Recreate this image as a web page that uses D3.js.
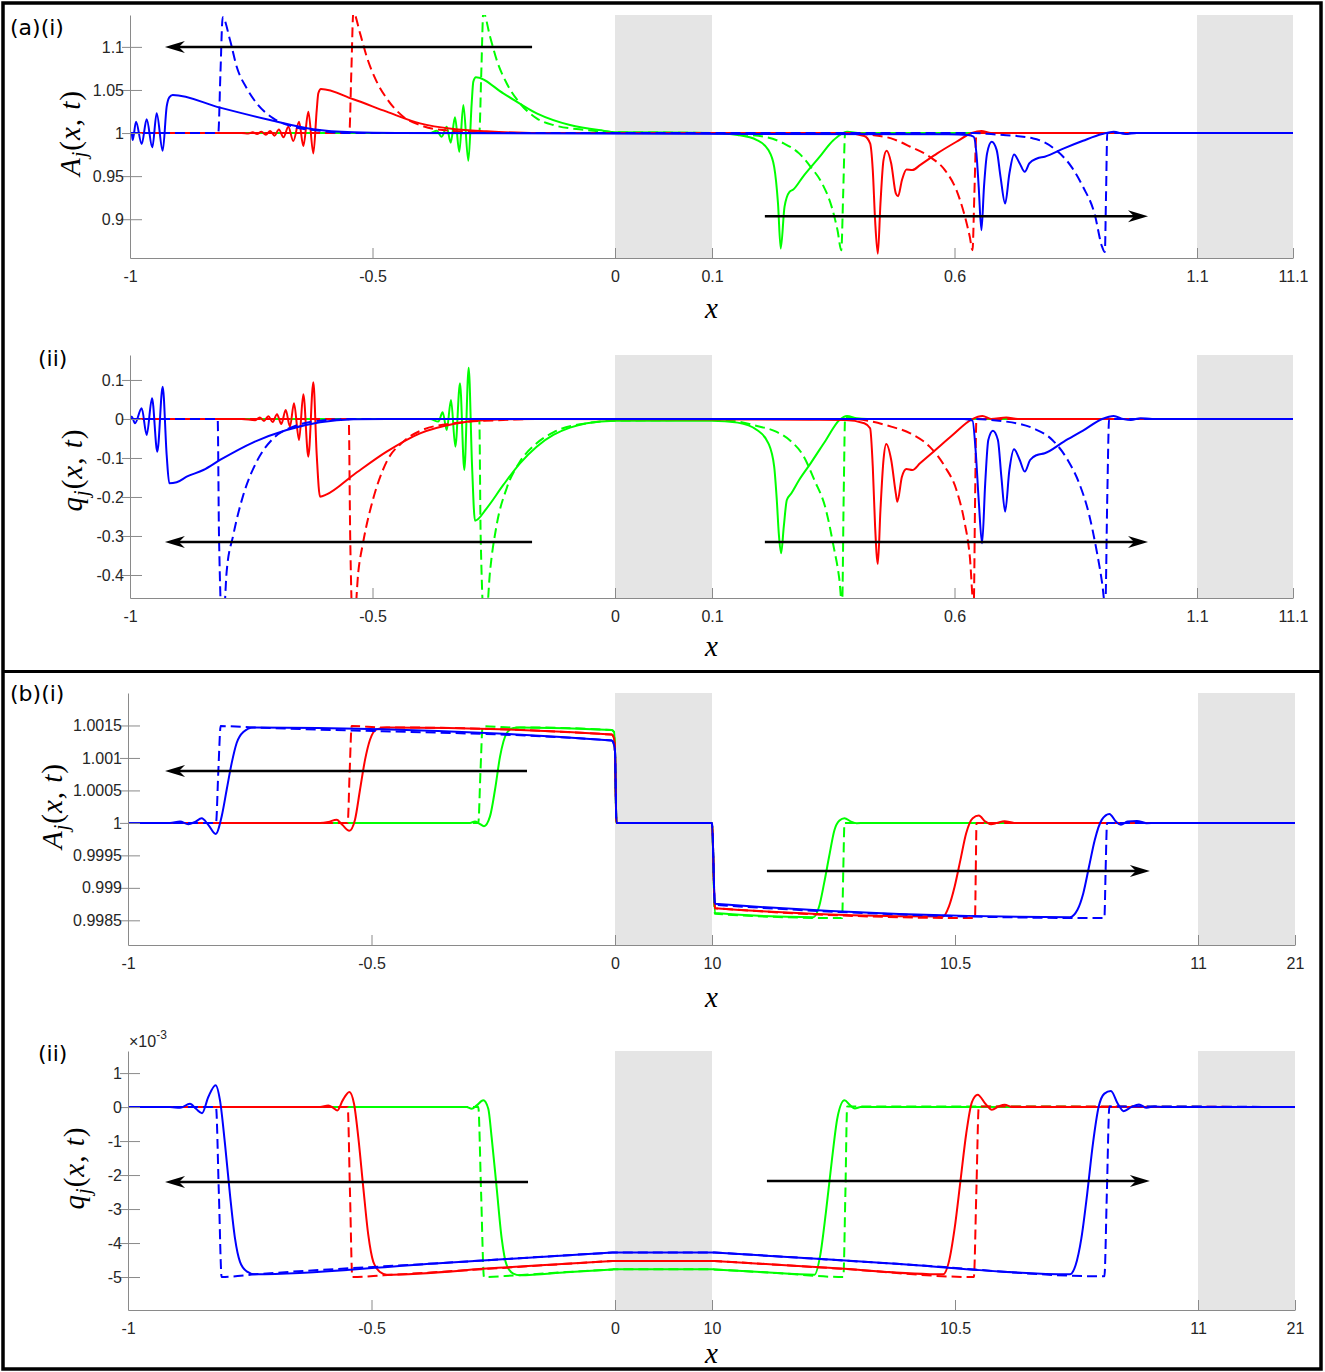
<!DOCTYPE html>
<html>
<head>
<meta charset="utf-8">
<script src="https://cdn.jsdelivr.net/npm/d3@7"></script>
<style>
  body { margin: 0; background: #fff; }
  svg text { font-family: "Liberation Sans", Arial, sans-serif; }
</style>
</head>
<body>
<svg id="fig" width="1325" height="1372"></svg>
<script>
// ---------- axes: shaded gaps and ticks ----------
const shadeA = [[0, 0.1], [1.1, 11.1]];
const shadeB = [[0, 10], [11, 21]];
const xTicksA = [-1, -0.5, 0, 0.1, 0.6, 1.1, 11.1];
const xTicksB = [-1, -0.5, 0, 10, 10.5, 11, 21];
const yTicksA1 = [0.9, 0.95, 1, 1.05, 1.1];
const yTicksA2 = [-0.4, -0.3, -0.2, -0.1, 0, 0.1];
const yTicksB1 = [0.9985, 0.999, 0.9995, 1, 1.0005, 1.001, 1.0015];
const yTicksB2 = [-5, -4, -3, -2, -1, 0, 1]; // x 10^-3

// arrows: [x start, x tip, y]
const arrowsA1 = [[-0.171, -0.928, 1.1], [0.209, 0.999, 0.9035]];
const arrowsA2 = [[-0.171, -0.928, -0.3154], [0.209, 0.999, -0.3154]];
const arrowsB1 = [[-0.1807, -0.924, 1.0008], [10.113, 10.901, 0.99926]];
const arrowsB2 = [[-0.1786, -0.924, -2.205], [10.113, 10.901, -2.175]];

// ---------- (a)(i)  A_j(x,t) ----------
const aA_greenSolid = [[-1,1],[-0.381,1],[-0.3677,1.0027],[-0.3574,0.9957],[-0.347,1.0074],[-0.3388,0.9888],[-0.3299,1.0182],[-0.321,0.9783],[-0.3127,1.0326],[-0.3024,0.9678],[-0.2955,1.0345],[-0.2921,1.0597],[-0.2866,1.0647],[-0.2303,1.0461],[-0.1615,1.0229],[-0.0928,1.0093],[-0.0241,1.0027],[0,1.001],[0.1,1.0],[0.153,0.9977],[0.1926,0.9919],[0.2163,0.9802],[0.2282,0.9608],[0.2361,0.9182],[0.2417,0.866],[0.2495,0.9143],[0.2598,0.9318],[0.2677,0.9345],[0.2874,0.9492],[0.3192,0.9705],[0.3508,0.9919],[0.3785,1.0016],[0.4062,1.0],[11.1,1]];
const aA_greenDash = [[-1,1],[-0.2798,1],[-0.2757,1.07],[-0.2715,1.14],[-0.2577,1.112],[-0.244,1.0849],[-0.2234,1.0578],[-0.1959,1.0345],[-0.1615,1.0171],[-0.1272,1.0093],[-0.0584,1.0035],[0,1.001],[0.1,1.0],[0.153,0.9988],[0.2085,0.9957],[0.248,0.988],[0.2796,0.9764],[0.3033,0.9608],[0.327,0.9415],[0.3468,0.9143],[0.3588,0.8872],[0.3666,0.864],[0.3705,0.93],[0.3745,1.0],[11.1,1]];
const aA_redSolid = [[-1,1],[-0.77,1],[-0.756,0.9995],[-0.747,1.0008],[-0.738,0.999],[-0.729,1.0015],[-0.72,0.998],[-0.711,1.0025],[-0.702,0.997],[-0.693,1.004],[-0.6835,0.995],[-0.6736,1.0074],[-0.6633,0.9907],[-0.6515,1.0132],[-0.6426,0.9849],[-0.6323,1.0248],[-0.622,0.9764],[-0.615,1.0267],[-0.6117,1.0461],[-0.6062,1.0512],[-0.5396,1.0392],[-0.4708,1.0248],[-0.402,1.0112],[-0.3333,1.0047],[-0.2646,1.002],[-0.1615,1.0],[0.3745,1.0],[0.414,0.9965],[0.426,0.988],[0.4315,0.957],[0.4363,0.8988],[0.4419,0.86],[0.4473,0.918],[0.4536,0.9686],[0.46,0.9794],[0.4695,0.9647],[0.479,0.93],[0.4837,0.9267],[0.4916,0.9453],[0.501,0.9578],[0.513,0.957],[0.5289,0.9628],[0.5644,0.9764],[0.604,0.9899],[0.6357,1.0],[0.6555,1.0023],[0.6753,1.0],[11.1,1]];
const aA_redDash = [[-1,1],[-0.5478,1],[-0.5437,1.07],[-0.5395,1.14],[-0.5258,1.116],[-0.512,1.0887],[-0.4914,1.0597],[-0.4708,1.0403],[-0.4365,1.019],[-0.402,1.0093],[-0.3677,1.0043],[-0.299,1.0015],[-0.2303,1.0],[0.3903,1.0],[0.4299,0.9977],[0.4695,0.9938],[0.509,0.9841],[0.5487,0.9725],[0.5802,0.957],[0.604,0.9337],[0.6198,0.9066],[0.6316,0.8794],[0.6371,0.864],[0.641,0.93],[0.6452,1.0],[11.1,1]];
const aA_blueSolid = [[-1,1],[-0.9965,1.0],[-0.9944,0.9919],[-0.9876,1.0131],[-0.9759,0.9872],[-0.9656,1.0159],[-0.954,0.9834],[-0.945,1.0229],[-0.9326,0.9794],[-0.9244,1.0306],[-0.919,1.0415],[-0.912,1.0442],[-0.8144,1.0295],[-0.7113,1.0151],[-0.622,1.0043],[-0.54,1.0008],[-0.45,1.0],[0.588,0.9985],[0.6277,0.9977],[0.6396,0.9957],[0.6452,0.9764],[0.6499,0.9376],[0.6555,0.8872],[0.6608,0.9376],[0.6672,0.9764],[0.6767,0.9899],[0.687,0.9802],[0.6949,0.9492],[0.7044,0.9182],[0.7132,0.9531],[0.7227,0.9752],[0.7345,0.9647],[0.7448,0.955],[0.7542,0.9647],[0.7701,0.9705],[0.786,0.9725],[0.8256,0.9822],[0.865,0.991],[0.9045,0.9988],[0.9282,1.0016],[0.9521,0.9988],[0.9759,1.0],[11.1,1]];
const aA_blueDash = [[-1,1],[-0.818,1],[-0.8135,1.07],[-0.8089,1.1345],[-0.7938,1.108],[-0.78,1.077],[-0.7594,1.052],[-0.7388,1.0345],[-0.7045,1.017],[-0.6633,1.0074],[-0.6082,1.0027],[-0.5532,1.0],[0.64,1.0],[0.6753,0.9988],[0.7623,0.9938],[0.8097,0.98],[0.8412,0.9608],[0.865,0.9376],[0.8887,0.9066],[0.9045,0.8678],[0.91,0.862],[0.9125,0.93],[0.915,1.0],[11.1,1]];

// ---------- (a)(ii)  q_j(x,t) ----------
const aQ_greenSolid = [[-1,0],[-0.3814,0],[-0.3643,-0.0068],[-0.3553,0.0171],[-0.347,-0.0282],[-0.3381,0.0487],[-0.3292,-0.071],[-0.3196,0.0915],[-0.3107,-0.1308],[-0.3017,0.1316],[-0.2948,-0.118],[-0.2887,-0.2607],[-0.2646,-0.229],[-0.2303,-0.1692],[-0.1959,-0.1137],[-0.1615,-0.071],[-0.1272,-0.041],[-0.0928,-0.0222],[-0.0584,-0.011],[0,-0.0043],[0.1,-0.0043],[0.153,-0.0094],[0.1926,-0.0282],[0.2163,-0.0624],[0.2282,-0.1222],[0.2336,-0.2077],[0.2377,-0.2932],[0.2425,-0.3444],[0.248,-0.2761],[0.2543,-0.2077],[0.2637,-0.1906],[0.2796,-0.1564],[0.3033,-0.1137],[0.335,-0.0538],[0.3627,-0.0026],[0.3785,0.0077],[0.3983,0.0017],[0.42,0],[11.1,0]];
const aQ_greenDash = [[-1,0],[-0.2798,0],[-0.277,-0.3],[-0.268,-0.55],[-0.2577,-0.3915],[-0.244,-0.2718],[-0.2234,-0.1778],[-0.1959,-0.1094],[-0.1615,-0.0624],[-0.1272,-0.0342],[-0.0584,-0.011],[0,-0.0043],[0.1,-0.0026],[0.153,-0.0068],[0.1926,-0.018],[0.2322,-0.0325],[0.2637,-0.0581],[0.2874,-0.0923],[0.3111,-0.1564],[0.335,-0.2333],[0.3508,-0.3274],[0.3627,-0.4128],[0.3683,-0.48],[0.3715,-0.2],[0.3745,0.0043],[0.4062,0],[11.1,0]];
const aQ_redSolid = [[-1,0],[-0.77,0],[-0.7416,-0.003],[-0.7326,0.004],[-0.7237,-0.005],[-0.7148,0.007],[-0.7058,-0.008],[-0.6969,0.012],[-0.688,-0.013],[-0.679,0.023],[-0.6701,-0.0197],[-0.6619,0.0402],[-0.6515,-0.0538],[-0.6426,0.0632],[-0.6323,-0.0966],[-0.622,0.094],[-0.615,-0.0923],[-0.6082,-0.1991],[-0.5945,-0.1932],[-0.5395,-0.1436],[-0.4708,-0.0838],[-0.402,-0.0368],[-0.3334,-0.0128],[-0.2646,-0.0026],[-0.1615,0],[0.3,-0.002],[0.3745,-0.0026],[0.414,-0.011],[0.426,-0.0239],[0.4315,-0.1222],[0.4363,-0.2761],[0.4419,-0.3718],[0.4473,-0.2333],[0.4536,-0.1051],[0.4592,-0.0641],[0.4695,-0.1051],[0.479,-0.1906],[0.4821,-0.212],[0.4916,-0.148],[0.501,-0.1282],[0.513,-0.1308],[0.5289,-0.1137],[0.5566,-0.0838],[0.5961,-0.041],[0.6357,-0.0008],[0.6578,0.0077],[0.6753,0],[0.7068,0.004],[0.7305,0],[11.1,0]];
const aQ_redDash = [[-1,0],[-0.549,0],[-0.546,-0.3],[-0.5395,-0.55],[-0.5292,-0.3915],[-0.519,-0.3145],[-0.4983,-0.2034],[-0.4708,-0.1094],[-0.4365,-0.0581],[-0.402,-0.0308],[-0.3334,-0.011],[-0.2303,-0.0026],[-0.1615,0],[0.3903,0],[0.4299,-0.0068],[0.4695,-0.0197],[0.509,-0.0368],[0.5487,-0.071],[0.5802,-0.1222],[0.604,-0.182],[0.6198,-0.259],[0.6316,-0.353],[0.6396,-0.48],[0.6425,-0.2],[0.6452,0],[11.1,0]];
const aQ_blueSolid = [[-1,0.006],[-0.9965,0.006],[-0.9897,-0.011],[-0.9759,0.0274],[-0.9656,-0.041],[-0.9546,0.053],[-0.9437,-0.0838],[-0.9326,0.0829],[-0.9244,-0.0923],[-0.919,-0.165],[-0.9038,-0.1624],[-0.8832,-0.148],[-0.8488,-0.1308],[-0.8144,-0.1051],[-0.7457,-0.0598],[-0.677,-0.0282],[-0.6082,-0.0085],[-0.5395,-0.0008],[-0.47,0],[0.6198,0],[0.6371,-0.0043],[0.6435,-0.0795],[0.6499,-0.2077],[0.6569,-0.3188],[0.6633,-0.165],[0.6697,-0.0538],[0.6792,-0.03],[0.6895,-0.0538],[0.6966,-0.148],[0.7044,-0.2376],[0.7132,-0.1308],[0.7227,-0.0778],[0.7345,-0.1051],[0.7448,-0.135],[0.7559,-0.1051],[0.7701,-0.0923],[0.786,-0.088],[0.8256,-0.0581],[0.865,-0.03],[0.9045,0],[0.9282,0.0077],[0.948,0],[0.9639,-0.0026],[0.9837,0.002],[1.0074,0],[11.1,0]];
const aQ_blueDash = [[-1,0],[-0.8192,0],[-0.8165,-0.3],[-0.8089,-0.55],[-0.8007,-0.3915],[-0.787,-0.2974],[-0.7664,-0.1949],[-0.7388,-0.1094],[-0.7045,-0.0496],[-0.6633,-0.0197],[-0.6082,-0.0043],[-0.5395,0],[0.6277,0],[0.7068,-0.0068],[0.7623,-0.0239],[0.8017,-0.0538],[0.8334,-0.1051],[0.8571,-0.165],[0.8769,-0.2419],[0.8928,-0.3359],[0.9045,-0.4213],[0.9109,-0.48],[0.915,-0.2],[0.9188,0],[11.1,0]];

// ---------- (b)(i)  A_j(x,t) ----------
const bA_greenSolid = [[-1,1],[-0.2977,1],[-0.2875,1.00002],[-0.2786,0.99999],[-0.269,0.99995],[-0.2567,1.0001],[-0.2464,1.00051],[-0.2361,1.00102],[-0.2224,1.00138],[-0.2088,1.00146],[-0.1951,1.00147],[-0.0068,1.00143],[-0.002,1.0014],[0,1.0011],[0.15,1],[10,1],[10.006,0.998611],[10.209,0.998549],[10.2204,0.998712],[10.2307,0.999072],[10.241,0.999482],[10.252,0.999892],[10.2623,1.000036],[10.2726,1.000072],[10.286,1.00002],[10.2978,0.999995],[10.3136,1],[21,1]];
const bA_greenDash = [[-1,1],[-0.2807,1],[-0.2762,1.0008],[-0.2717,1.00149],[-0.2121,1.00147],[-0.1951,1.00147],[-0.0068,1.00143],[-0.002,1.0014],[0,1.0011],[0.15,1],[10,1],[10.006,0.9986],[10.2678,0.998534],[10.2702,0.9993],[10.2726,1],[21,1]];
const bA_redSolid = [[-1,1],[-0.6057,1],[-0.5887,1.000015],[-0.5715,1.00005],[-0.56,0.99997],[-0.5456,0.99988],[-0.5339,1.00005],[-0.5236,1.00051],[-0.5133,1.00097],[-0.5031,1.00128],[-0.4894,1.00144],[-0.4689,1.00147],[-0.0068,1.00136],[-0.002,1.0013],[0,1.0011],[0.15,1],[10,1],[10.006,0.998687],[10.4756,0.998559],[10.4874,0.998712],[10.4993,0.99902],[10.5112,0.999431],[10.523,0.999841],[10.5365,1.000072],[10.549,1.000113],[10.5625,1.00002],[10.5743,0.99998],[10.5862,1],[10.602,1.000026],[10.6217,1],[21,1]];
const bA_redDash = [[-1,1],[-0.5489,1],[-0.5448,1.0008],[-0.5407,1.00149],[-0.4757,1.00147],[-0.4689,1.00147],[-0.0068,1.00136],[-0.002,1.0013],[0,1.0011],[0.15,1],[10,1],[10.006,0.998687],[10.5412,0.998534],[10.5428,0.9993],[10.5443,1],[21,1]];
const bA_blueSolid = [[-1,1],[-0.9138,1],[-0.8932,1.00002],[-0.8762,0.99998],[-0.8624,1.000015],[-0.8487,1.00007],[-0.8351,0.99997],[-0.82,0.99983],[-0.8077,1.0001],[-0.7974,1.00051],[-0.7871,1.00092],[-0.7769,1.00123],[-0.7632,1.0014],[-0.7427,1.00147],[-0.0068,1.00127],[-0.002,1.0012],[0,1.0011],[0.15,1],[10,1],[10.006,0.998754],[10.7363,0.998549],[10.752,0.998662],[10.764,0.998918],[10.7758,0.999328],[10.7876,0.999738],[10.8019,1.000046],[10.8177,1.000138],[10.8311,1.00002],[10.8414,0.99997],[10.8548,1.00002],[10.8745,1.000031],[10.8943,0.999995],[10.914,1],[21,1]];
const bA_blueDash = [[-1,1],[-0.8193,1],[-0.8145,1.0008],[-0.8097,1.00149],[-0.7427,1.00147],[-0.0068,1.00127],[-0.002,1.0012],[0,1.0011],[0.15,1],[10,1],[10.006,0.998738],[10.8074,0.998534],[10.81,0.9993],[10.8129,1],[21,1]];

// ---------- (b)(ii)  q_j(x,t), in units of 10^-3 ----------
const bQ_greenSolid = [[-1,0],[-0.3046,0],[-0.2943,-0.05],[-0.284,0.05],[-0.2704,0.198],[-0.2602,-0.05],[-0.2533,-0.891],[-0.243,-2.376],[-0.2327,-3.861],[-0.2224,-4.653],[-0.2088,-4.901],[-0.1951,-4.95],[-0.1,-4.862],[-0.005,-4.776],[0,-4.772],[10,-4.772],[10.005,-4.776],[10.1,-4.85],[10.211,-4.931],[10.2228,-4.356],[10.2346,-3.069],[10.2465,-1.584],[10.2583,-0.297],[10.2726,0.198],[10.2844,0.05],[10.2939,-0.04],[10.3057,0],[21,0]];
const bQ_greenDash = [[-1,0],[-0.2807,0],[-0.275,-2.5],[-0.269,-5.0],[-0.205,-4.95],[-0.1,-4.855],[-0.005,-4.776],[0,-4.772],[10,-4.772],[10.005,-4.776],[10.14,-4.89],[10.2702,-5.0],[10.2745,-2.5],[10.2781,0.02],[21,0]];
const bQ_redSolid = [[-1,0],[-0.6057,0],[-0.5887,0.05],[-0.5784,-0.02],[-0.5702,-0.099],[-0.5592,0.198],[-0.5455,0.446],[-0.5359,0.099],[-0.5271,-0.891],[-0.5168,-2.376],[-0.5066,-3.762],[-0.4963,-4.554],[-0.4825,-4.851],[-0.4688,-4.931],[-0.24,-4.73],[-0.005,-4.529],[0,-4.525],[10,-4.525],[10.005,-4.529],[10.24,-4.725],[10.4756,-4.921],[10.4874,-4.554],[10.4993,-3.564],[10.5112,-2.178],[10.523,-0.792],[10.5348,0.149],[10.5467,0.366],[10.5625,0.099],[10.5759,-0.079],[10.5901,0.02],[10.602,0.069],[10.6178,0],[21,0]];
const bQ_redDash = [[-1,0],[-0.5489,0],[-0.5442,-2.5],[-0.5394,-5.0],[-0.4757,-4.95],[-0.24,-4.74],[-0.005,-4.529],[0,-4.525],[10,-4.525],[10.005,-4.529],[10.27,-4.76],[10.5388,-5.0],[10.5439,-2.5],[10.549,0.02],[21,0]];
const bQ_blueSolid = [[-1,0],[-0.9138,0],[-0.8932,-0.02],[-0.8727,0.099],[-0.8604,-0.05],[-0.848,-0.178],[-0.8351,0.297],[-0.82,0.644],[-0.8111,0.198],[-0.8008,-1.089],[-0.7906,-2.574],[-0.7803,-3.861],[-0.77,-4.554],[-0.7563,-4.832],[-0.7392,-4.921],[-0.37,-4.6],[-0.005,-4.281],[0,-4.277],[10,-4.277],[10.005,-4.281],[10.37,-4.6],[10.7363,-4.921],[10.7481,-4.653],[10.76,-3.861],[10.7718,-2.574],[10.7837,-1.089],[10.7955,0],[10.8074,0.396],[10.8208,0.475],[10.835,0.099],[10.8469,-0.119],[10.8627,0],[10.8785,0.079],[10.8943,-0.02],[10.91,0.02],[10.93,0],[21,0]];
const bQ_blueDash = [[-1,0],[-0.8193,0],[-0.8135,-2.5],[-0.8077,-5.0],[-0.7392,-4.921],[-0.37,-4.6],[-0.005,-4.281],[0,-4.277],[10,-4.277],[10.005,-4.281],[10.4,-4.63],[10.8074,-4.98],[10.8125,-2.5],[10.8177,0.02],[21,0]];

const GREEN = '#00ff00', RED = '#ff0000', BLUE = '#0000ff';

const panels = [
    {
        top: 15, bottom: 258, xDom: [-1, 0, 0.1, 1.1, 11.1], xRng: [130, 615, 712, 1197, 1293],
        yDom: [0.855, 1.137], yTicks: yTicksA1, xTicks: xTicksA, shade: shadeA, arrows: arrowsA1,
        yVar: 'A', ylabX: 80, ylabY: 133, xlabY: 318, tag: '(a)(i)', tagX: 10, tagY: 35,
        series: [aA_greenSolid, aA_greenDash, aA_redSolid, aA_redDash, aA_blueSolid, aA_blueDash],
    },
    {
        top: 355, bottom: 598, xDom: [-1, 0, 0.1, 1.1, 11.1], xRng: [130, 615, 712, 1197, 1293],
        yDom: [-0.459, 0.164], yTicks: yTicksA2, xTicks: xTicksA, shade: shadeA, arrows: arrowsA2,
        yVar: 'q', ylabX: 82, ylabY: 470, xlabY: 656, tag: '(ii)', tagX: 38, tagY: 366,
        series: [aQ_greenSolid, aQ_greenDash, aQ_redSolid, aQ_redDash, aQ_blueSolid, aQ_blueDash],
    },
    {
        top: 693, bottom: 945, xDom: [-1, 0, 10, 11, 21], xRng: [128, 615, 712, 1198, 1295],
        yDom: [0.99812, 1.002], yTicks: yTicksB1, xTicks: xTicksB, shade: shadeB, arrows: arrowsB1,
        yVar: 'A', ylabX: 62, ylabY: 806, xlabY: 1007, tag: '(b)(i)', tagX: 10, tagY: 701,
        series: [bA_greenSolid, bA_greenDash, bA_redSolid, bA_redDash, bA_blueSolid, bA_blueDash],
    },
    {
        top: 1051, bottom: 1310, xDom: [-1, 0, 10, 11, 21], xRng: [128, 615, 712, 1198, 1295],
        yDom: [-5.97, 1.65], yTicks: yTicksB2, xTicks: xTicksB, shade: shadeB, arrows: arrowsB2,
        yVar: 'q', ylabX: 84, ylabY: 1168, xlabY: 1363, tag: '(ii)', tagX: 38, tagY: 1061, exponent: true,
        series: [bQ_greenSolid, bQ_greenDash, bQ_redSolid, bQ_redDash, bQ_blueSolid, bQ_blueDash],
    },
];
const seriesStyle = [
    { color: GREEN, dash: null }, { color: GREEN, dash: '10,5' },
    { color: RED, dash: null }, { color: RED, dash: '10,5' },
    { color: BLUE, dash: null }, { color: BLUE, dash: '10,5' },
];

const svg = d3.select('#fig');
const AXIS = '#8a8a8a';
const INK = '#262626';
const SERIF = '"Liberation Serif", "Times New Roman", serif';

panels.forEach((p, idx) => {
    const x = d3.scaleLinear().domain(p.xDom).range(p.xRng);
    const y = d3.scaleLinear().domain(p.yDom).range([p.bottom, p.top]);
    const left = p.xRng[0], right = p.xRng[p.xRng.length - 1];
    const g = svg.append('g');

    g.selectAll('rect.shade')
        .data(p.shade)
        .join('rect')
        .attr('class', 'shade')
        .attr('x', (d) => x(d[0]))
        .attr('y', p.top)
        .attr('width', (d) => x(d[1]) - x(d[0]))
        .attr('height', p.bottom - p.top)
        .attr('fill', '#e5e5e5');

    // curves, clipped to the axes box
    g.append('clipPath')
        .attr('id', `clip${idx}`)
        .append('rect')
        .attr('x', left)
        .attr('y', p.top)
        .attr('width', right - left)
        .attr('height', p.bottom - p.top);
    const line = d3.line()
        .x((d) => x(d[0]))
        .y((d) => y(d[1]))
        .curve(d3.curveMonotoneX);
    g.append('g')
        .attr('clip-path', `url(#clip${idx})`)
        .selectAll('path')
        .data(p.series)
        .join('path')
        .attr('d', line)
        .attr('fill', 'none')
        .attr('stroke', (d, i) => seriesStyle[i].color)
        .attr('stroke-width', 2)
        .attr('stroke-dasharray', (d, i) => seriesStyle[i].dash)
        .attr('stroke-linejoin', 'round');

    // axes
    const xAxis = d3.axisBottom(x)
        .tickValues(p.xTicks)
        .tickFormat((d) => String(d))
        .tickSizeInner(-10)
        .tickSizeOuter(0)
        .tickPadding(13);
    const yAxis = d3.axisLeft(y)
        .tickValues(p.yTicks)
        .tickFormat((d) => String(d))
        .tickSizeInner(-12)
        .tickSizeOuter(0)
        .tickPadding(6);
    const gx = g.append('g').attr('transform', `translate(0,${p.bottom})`).call(xAxis);
    const gy = g.append('g').attr('transform', `translate(${left},0)`).call(yAxis);
    [gx, gy].forEach((ax) => {
        ax.attr('font-family', null).attr('font-size', null);
        ax.select('.domain').attr('stroke', AXIS);
        ax.selectAll('.tick line').attr('stroke', AXIS);
        ax.selectAll('.tick text').attr('fill', INK).style('font-size', '16px');
    });
    gy.selectAll('.tick line').clone().attr('x2', -8);

    // arrows
    p.arrows.forEach(([x0, x1, yv]) => {
        const xs = x(x0), xt = x(x1), yy = y(yv);
        const dir = Math.sign(xt - xs);
        g.append('line')
            .attr('x1', xs).attr('x2', xt - dir * 10)
            .attr('y1', yy).attr('y2', yy)
            .attr('stroke', 'black').attr('stroke-width', 2.5);
        g.append('path')
            .attr('d', `M${xt},${yy} L${xt - dir * 20},${yy - 6} L${xt - dir * 14},${yy} L${xt - dir * 20},${yy + 6} Z`)
            .attr('fill', 'black');
    });

    // labels
    const yl = svg.append('text')
        .attr('transform', `translate(${p.ylabX},${p.ylabY}) rotate(-90)`)
        .attr('text-anchor', 'middle')
        .attr('fill', 'black')
        .style('font-family', SERIF)
        .style('font-size', '29px')
        .style('letter-spacing', '1px');
    yl.append('tspan').style('font-style', 'italic').text(p.yVar);
    yl.append('tspan').style('font-style', 'italic').style('font-size', '20px').attr('dy', 6).text('j');
    yl.append('tspan').attr('dy', -6).text('(');
    yl.append('tspan').style('font-style', 'italic').text('x');
    yl.append('tspan').text(', ');
    yl.append('tspan').style('font-style', 'italic').text('t');
    yl.append('tspan').text(')');

    svg.append('text')
        .attr('x', (left + right) / 2)
        .attr('y', p.xlabY)
        .attr('text-anchor', 'middle')
        .style('font-family', SERIF)
        .style('font-style', 'italic')
        .style('font-size', '29px')
        .text('x');

    svg.append('text')
        .attr('x', p.tagX)
        .attr('y', p.tagY)
        .style('font-family', '"DejaVu Sans", sans-serif')
        .style('font-size', '22px')
        .text(p.tag);

    if (p.exponent) {
        const ex = svg.append('text')
            .attr('x', left + 1)
            .attr('y', p.top - 4)
            .attr('fill', INK)
            .style('font-size', '16px');
        ex.append('tspan').text('\u00d710');
        ex.append('tspan').attr('dy', -8).style('font-size', '12px').text('-3');
    }
});

// outer frame and separator
svg.append('rect')
    .attr('x', 3).attr('y', 3).attr('width', 1318).attr('height', 1366)
    .attr('fill', 'none').attr('stroke', 'black').attr('stroke-width', 3.5);
svg.append('line')
    .attr('x1', 3).attr('x2', 1321).attr('y1', 671.5).attr('y2', 671.5)
    .attr('stroke', 'black').attr('stroke-width', 3);
</script>
</body>
</html>
